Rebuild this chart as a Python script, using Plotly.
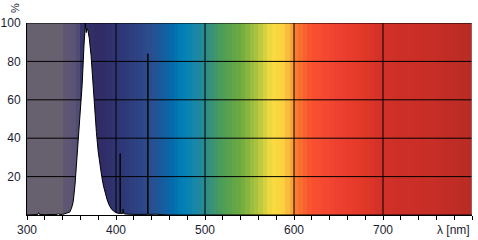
import plotly.graph_objects as go
import numpy as np

# Spectral data (wavelength nm, relative %)
wavelength = [300, 310, 312, 313, 314, 320, 330, 334, 335, 336, 340, 345, 348, 350, 352, 354, 356, 358,
              360, 362, 364, 365, 365.6, 366.5, 367.5, 368.5, 370, 372, 374, 376, 378, 380, 382, 384,
              386, 388, 390, 392, 395, 398, 400, 403, 404.3, 404.7, 405.1, 407.5, 408, 408.5, 410,
              420, 435.4, 435.8, 436.2, 445, 455, 460, 800]
intensity = [0, 0.3, 0.3, 1.2, 0.3, 0.2, 0.2, 0.3, 0.8, 0.3, 0.3, 0.8, 1.5, 3.5, 7, 16, 28, 40,
             52, 68, 88, 98, 100, 95, 97, 96, 92, 83, 68, 55, 43, 33, 25, 20,
             15, 11, 8, 5.5, 3, 1.8, 1.2, 0.8, 0.8, 32, 0.8, 0.8, 3, 0.8, 0.5,
             0.3, 0.3, 84, 0.3, 0.4, 0.3, 0, 0]

# Background spectrum colour stops
bg_wl = [300, 338, 340, 356, 362, 378, 384, 420, 440, 460, 475, 490, 500, 520, 540, 560, 575,
         588, 597, 602, 620, 650, 680, 700, 750, 800]
bg_col = ["#67606f", "#67606f", "#605870", "#5a5276", "#36326a", "#302c64", "#302c66", "#2e3f80",
          "#2a4f90", "#0a65a8", "#0080b8", "#1a88a8", "#2c8a8c", "#4e9e56", "#6eaa40", "#b4c640",
          "#f8dc40", "#fcd040", "#f8a838", "#f87c30", "#f85030", "#ee4030", "#e03828", "#d03028",
          "#c82e26", "#b82c24"]

x_ticks = [300, 400, 500, 600, 700]
y_ticks = [20, 40, 60, 80, 100]


def hex2rgb(h):
    h = h.lstrip("#")
    return np.array([int(h[i:i + 2], 16) for i in (0, 2, 4)], dtype=float)


stops = np.array([hex2rgb(c) for c in bg_col])
edges = np.arange(300, 805, 5)
centers = (edges[:-1] + edges[1:]) / 2
cols = []
for c in centers:
    rgb = [np.interp(c, bg_wl, stops[:, k]) for k in range(3)]
    cols.append("rgb(%d,%d,%d)" % tuple(int(round(v)) for v in rgb))
n = len(cols)
cscale = [[i / (n - 1), cols[i]] for i in range(n)]

fig = go.Figure()
fig.add_trace(go.Heatmap(x=edges, y=[0, 100], z=[list(range(n))], colorscale=cscale,
                         showscale=False, zsmooth=False, hoverinfo="skip"))

# grid lines
gx, gy = [], []
for t in x_ticks[1:]:
    gx += [t, t, None]
    gy += [0, 100, None]
for t in y_ticks:
    gx += [300, 800, None]
    gy += [t, t, None]
fig.add_trace(go.Scatter(x=gx, y=gy, mode="lines", line=dict(color="black", width=1),
                         hoverinfo="skip", showlegend=False))
fig.add_trace(go.Scatter(x=[800, 800], y=[0, 100], mode="lines", line=dict(color="#8a8a8a", width=1),
                         hoverinfo="skip", showlegend=False))

fig.add_trace(go.Scatter(x=wavelength, y=intensity, mode="lines", fill="tozeroy",
                         fillcolor="white", line=dict(color="black", width=1),
                         showlegend=False))

font = dict(family="Liberation Sans, Arial, sans-serif", size=12, color="#1c1c30")
fig.update_layout(
    width=478, height=240,
    margin=dict(l=27, r=6, t=23, b=25),
    paper_bgcolor="white", plot_bgcolor="white",
    showlegend=False, font=font,
    xaxis=dict(range=[300, 800], tickvals=x_ticks, ticktext=[str(v) for v in x_ticks],
               showgrid=False, zeroline=False, showline=True, linecolor="black", linewidth=1,
               ticks="outside", ticklen=4, tickcolor="black", automargin=False,
               minor=dict(ticks="outside", ticklen=4, dtick=20, tickcolor="black"),
               tickfont=font),
    yaxis=dict(range=[0, 100], tickvals=y_ticks, showgrid=False, zeroline=False,
               showline=True, linecolor="black", linewidth=1, ticks="", tickfont=font,
               ticklabelstandoff=3, automargin=False),
)
fig.add_annotation(x=800, y=0, xref="x", yref="paper", xanchor="right", yanchor="top",
                   yshift=-6, text="λ [nm]", showarrow=False, font=font)
fig.add_annotation(x=0, y=1, xref="paper", yref="paper", xanchor="center", yanchor="bottom",
                   xshift=-12, yshift=8, text="%", textangle=-90, showarrow=False,
                   font=dict(family="Liberation Sans, Arial, sans-serif", size=11, color="#1c1c30"))

fig.write_html("out.html")
